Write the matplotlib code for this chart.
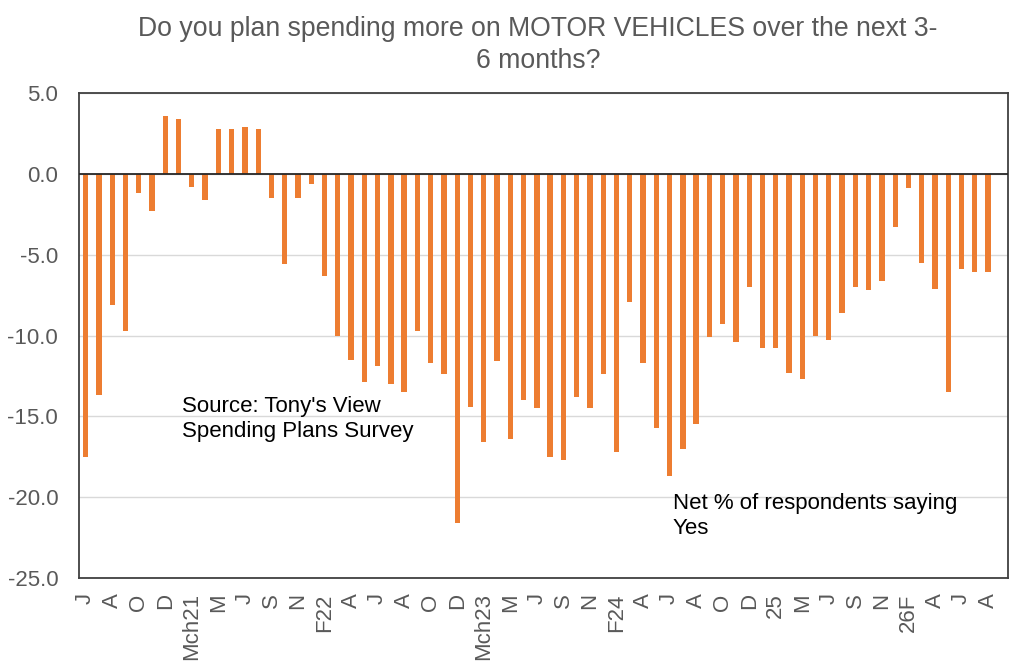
import numpy as np
import matplotlib
matplotlib.use("Agg")
import matplotlib.pyplot as plt

plt.rcParams['font.family'] = ['Liberation Sans', 'DejaVu Sans']

tick_labels = ["J", "A", "O", "D", "Mch21", "M", "J", "S", "N", "F22",
               "A", "J", "A", "O", "D", "Mch23", "M", "J", "S", "N",
               "F24", "A", "J", "A", "O", "D", "25", "M", "J", "S",
               "N", "26F", "A", "J", "A"]

values = [-17.5, -13.7, -8.1, -9.7, -1.2, -2.3, 3.6, 3.4, -0.8, -1.6,
          2.8, 2.8, 2.9, 2.8, -1.5, -5.6, -1.5, -0.6, -6.3, -10.0,
          -11.5, -12.9, -11.9, -13.0, -13.5, -9.7, -11.7, -12.4, -21.6, -14.4,
          -16.6, -11.6, -16.4, -14.0, -14.5, -17.5, -17.7, -13.8, -14.5, -12.4,
          -17.2, -7.9, -11.7, -15.7, -18.7, -17.0, -15.5, -10.1, -9.3, -10.4,
          -7.0, -10.8, -10.8, -12.3, -12.7, -10.0, -10.3, -8.6, -7.0, -7.2,
          -6.6, -3.3, -0.9, -5.5, -7.1, -13.5, -5.9, -6.1, -6.1]

n_slots = len(tick_labels) * 2

fig = plt.figure(figsize=(10.24, 6.69), dpi=100)
ax = fig.add_axes([79/1024, 1-578/669, (1008-79)/1024, (578-93)/669])

x = np.arange(len(values))
ax.bar(x, values, width=0.4, color='#ED7D31', zorder=3)

ax.set_xlim(-0.5, n_slots - 0.5)
ax.set_ylim(-25, 5)
ax.set_yticks(np.arange(-25, 5.1, 5))
ax.set_yticklabels([f"{v:.1f}" for v in np.arange(-25, 5.1, 5)])
ax.set_xticks(np.arange(0, n_slots, 2))
ax.set_xticklabels(tick_labels, rotation=90)

ax.grid(axis='y', color='#D9D9D9', linewidth=1, zorder=0)
ax.axhline(0, color='#262626', linewidth=1.3, zorder=4)
for s in ax.spines.values():
    s.set_color('#404040')
    s.set_linewidth(1.3)

ax.tick_params(axis='y', length=0, pad=15, labelsize=16, labelcolor='#595959')
ax.tick_params(axis='x', length=0, pad=11, labelsize=16, labelcolor='#595959')

fig.text(538/1024, 1-45/669,
         "Do you plan spending more on MOTOR VEHICLES over the next 3-\n6 months?",
         ha='center', va='center', fontsize=19.2, color='#595959', linespacing=1.25)

fig.text(182/1024, 1-419/669, "Source: Tony's View\nSpending Plans Survey",
         ha='left', va='center', fontsize=16, color='black', linespacing=1.25)
fig.text(673/1024, 1-516/669, "Net % of respondents saying\nYes",
         ha='left', va='center', fontsize=16, color='black', linespacing=1.25)

fig.savefig("out.png", dpi=100)
